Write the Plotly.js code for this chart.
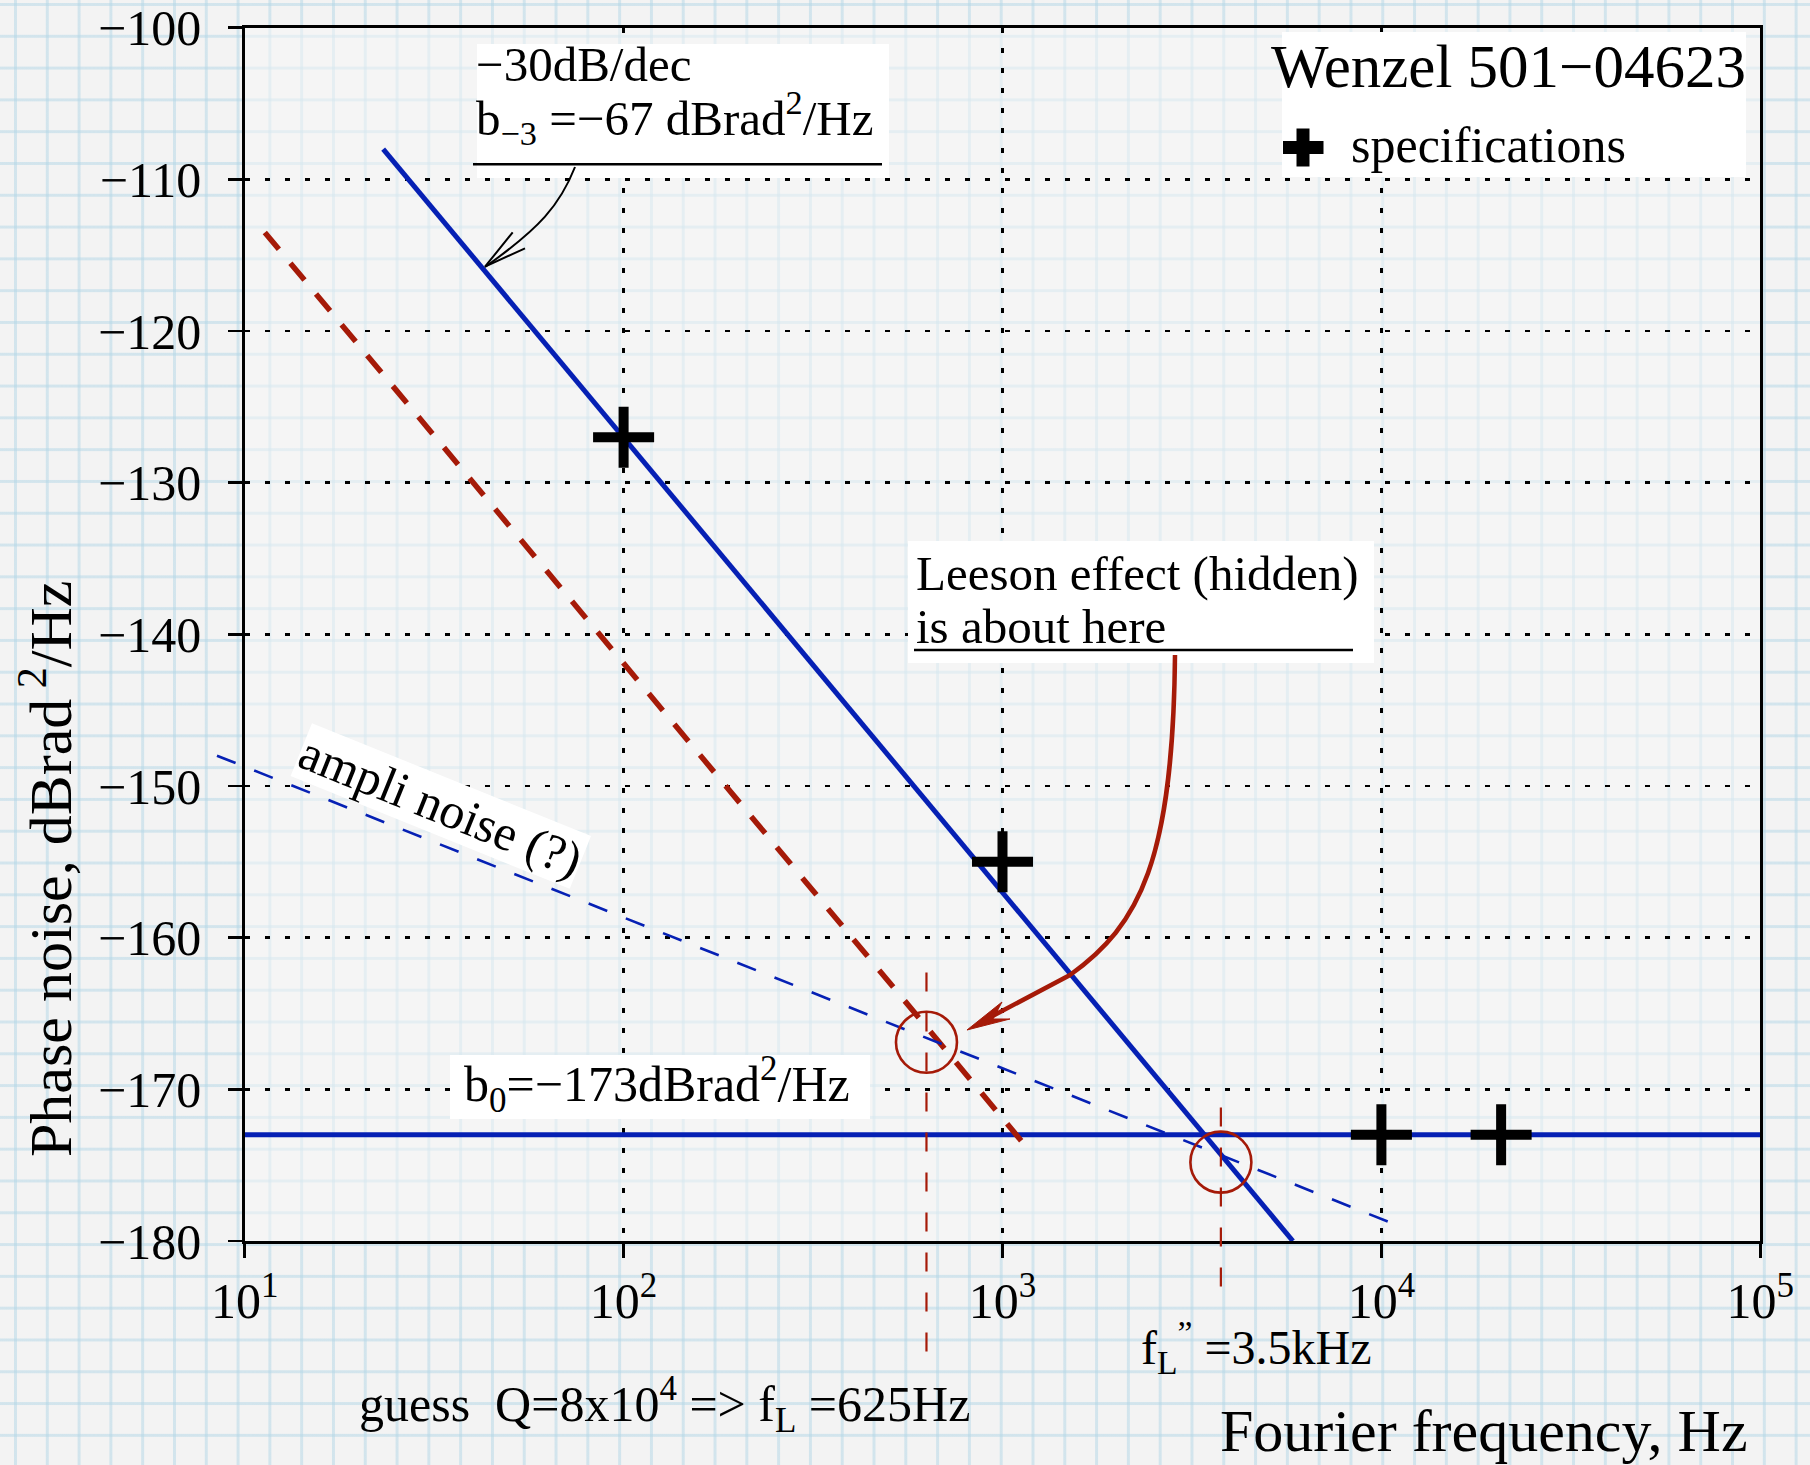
<!DOCTYPE html>
<html><head><meta charset="utf-8">
<script src="https://cdn.plot.ly/plotly-3.0.1.min.js"></script>
<style>
html,body{margin:0;padding:0;}
body{width:1810px;height:1465px;overflow:hidden;background-color:#f3f3f3;
background-image:linear-gradient(to right, rgba(178,214,230,0.5) 3px, transparent 3px), linear-gradient(to bottom, rgba(178,214,230,0.5) 3px, transparent 3px);
background-size:31.8px 31.8px;background-position:14px 3px;}
#chart{width:1810px;height:1465px;}
</style></head><body><div id="chart"></div>
<script>
// ---- data ----
const specFreq = [100, 1000, 10000, 20700];
const specPN = [-127, -155, -173, -173];
const flickerFreq = [23.2, 5840];          // b_-3 = -67 dB, -30 dB/dec
const flickerPN = [-108, -180];
const whiteFreq = [10, 100000];            // b_0 = -173 dB
const whitePN = [-173, -173];
const ampliFreq = [8.45, 10600];           // ampli noise (?)
const ampliPN = [-148, -178.8];
const leesonFreq = [11.3, 1130];           // Leeson guess
const leesonPN = [-113.5, -173.5];
const cornerFreq = [630, 3770];            // circled corners
const cornerPN = [-166.9, -174.8];
const fLFreq = [630, 630];
const fLPN = [-162.3, -187.6];
const fL2Freq = [3770, 3770];
const fL2PN = [-171.2, -183];
const xTickVals = [10, 100, 1000, 10000, 100000];
const xTickText = ['10<sup>1</sup>', '10<sup>2</sup>', '10<sup>3</sup>', '10<sup>4</sup>', '10<sup>5</sup>'];
const yTickVals = [-100, -110, -120, -130, -140, -150, -160, -170, -180];

// ---- geometry ----
const W = 1810, H = 1465;
const L = 244.7, R = 1760.3, T = 27.7, B = 1241;
const pxDec = (R - L) / 4, pxDB = (B - T) / 80;
const px = v => v / W, py = v => 1 - v / H;
const FONT = 'Liberation Serif, Times New Roman, serif';
const BLUE = '#0620b4', RED = '#a51a08';

const traces = [
  {x: whiteFreq, y: whitePN, mode: 'lines', line: {color: BLUE, width: 5}, xaxis: 'x', yaxis: 'y'},
  {x: flickerFreq, y: flickerPN, mode: 'lines', line: {color: BLUE, width: 5}, xaxis: 'x', yaxis: 'y'},
  {x: leesonFreq, y: leesonPN, mode: 'lines', line: {color: RED, width: 5.5, dash: '22px,18px'}, xaxis: 'x', yaxis: 'y'},
  {x: specFreq, y: specPN, mode: 'markers', marker: {symbol: 'cross-thin', size: 43.6, color: '#000', line: {color: '#000', width: 10}}, xaxis: 'x', yaxis: 'y'},
  {x: ampliFreq, y: ampliPN, mode: 'lines', line: {color: BLUE, width: 2.6, dash: '20px,20px'}, xaxis: 'x2', yaxis: 'y2'},
  {x: fLFreq, y: fLPN, mode: 'lines', line: {color: RED, width: 2.2, dash: '19px,21px'}, xaxis: 'x2', yaxis: 'y2'},
  {x: fL2Freq, y: fL2PN, mode: 'lines', line: {color: RED, width: 2.2, dash: '19px,21px'}, xaxis: 'x2', yaxis: 'y2'},
  {x: cornerFreq, y: cornerPN, mode: 'markers', marker: {symbol: 'circle-open', size: 61, color: RED, line: {color: RED, width: 2.6}}, xaxis: 'x2', yaxis: 'y2'}
];

function txt(text, x, y, size, xanchor, extra) {
  return Object.assign({xref: 'paper', yref: 'paper', x: px(x), y: py(y), text: text, showarrow: false,
    font: {family: FONT, size: size, color: '#000'}, xanchor: xanchor || 'center', yanchor: 'middle', borderpad: 0}, extra || {});
}
function rect(x0, y0, x1, y1, fill, layer) {
  return {type: 'rect', xref: 'paper', yref: 'paper', x0: px(x0), y0: py(y0), x1: px(x1), y1: py(y1),
    fillcolor: fill, line: {width: 0}, layer: layer || 'above'};
}
function hline(x0, x1, y, w) {
  return {type: 'line', xref: 'paper', yref: 'paper', x0: px(x0), x1: px(x1), y0: py(y), y1: py(y), line: {color: '#000', width: w}, layer: 'above'};
}
function pathShape(pts, color, width, fill) {
  let s = '';
  for (const seg of pts) {
    s += seg[0];
    const nums = [];
    for (let i = 1; i < seg.length; i += 2) nums.push(px(seg[i]).toFixed(5) + ',' + py(seg[i + 1]).toFixed(5));
    s += nums.join(' ') + ' ';
  }
  return {type: 'path', xref: 'paper', yref: 'paper', path: s.trim(), line: {color: color, width: width},
    fillcolor: fill || 'rgba(0,0,0,0)', layer: 'above'};
}

const shapes = [
  rect(L, T, R, B, 'rgba(248,248,248,0.5)', 'below'),
  rect(477, 44, 889, 178, '#fff'),
  rect(1282, 32, 1746, 177, '#fff'),
  rect(908, 541, 1374, 663, '#fff'),
  rect(450, 1055, 870, 1119, '#fff'),
  hline(473, 882, 164.3, 2.5),
  hline(914, 1353, 650, 2.5),
  rect(1283, 141, 1323.5, 154, '#000'),
  rect(1296.5, 128.5, 1309.5, 166.5, '#000'),
  pathShape([['M', 575, 167], ['C', 560, 205, 540, 228, 485, 267]], '#000', 2),
  pathShape([['M', 512.7, 232.3], ['L', 485, 266.7], ['L', 525, 248.3]], '#000', 2),
  pathShape([['M', 1175, 655], ['C', 1173, 860, 1140, 925, 1070, 975], ['L', 985, 1020]], RED, 4.5),
  pathShape([['M', 967, 1030], ['L', 1002, 1002], ['L', 993, 1019], ['L', 1010, 1019], ['Z']], RED, 1, RED)
];

const annotations = [
  txt('−30dB/dec', 475, 65, 49, 'left'),
  txt('b<sub>−3</sub> =−67 dBrad<sup>2</sup>/Hz', 475, 118, 49, 'left'),
  txt('Wenzel 501−04623', 1747, 66.6, 61, 'right'),
  txt('specifications', 1350, 144.7, 50, 'left'),
  txt('Leeson effect (hidden)', 915, 573, 49, 'left'),
  txt('is about here', 915, 626, 49, 'left'),
  txt('ampli noise (?)', 440.8, 805.6, 50, 'center', {textangle: 22, bgcolor: '#fff'}),
  txt('b<sub>0</sub>=−173dBrad<sup>2</sup>/Hz', 657, 1084.7, 50, 'center'),
  txt('guess\u00a0\u00a0Q=8x10<sup>4</sup> => f<sub>L</sub> =625Hz', 664.7, 1404.7, 50, 'center'),
  txt('f<sub>L</sub><sup>”</sup> =3.5kHz', 1140, 1347, 48, 'left'),
  txt('Fourier frequency, Hz', 1483.8, 1431.3, 60, 'center'),
  txt('Phase noise, dBrad<sup> 2</sup>/Hz', 46, 869, 60, 'center', {textangle: -90})
];

const axisCommon = {showline: true, linecolor: '#000', linewidth: 2.5, mirror: true, ticks: 'outside', ticklen: 14,
  tickwidth: 2.5, tickcolor: '#000', showgrid: true, gridcolor: '#000', gridwidth: 2.5, griddash: '5px,15px',
  zeroline: false, tickfont: {family: FONT, size: 50, color: '#000'}, fixedrange: true};

const layout = {
  width: W, height: H, margin: {l: 0, r: 0, t: 0, b: 0},
  paper_bgcolor: 'rgba(0,0,0,0)', plot_bgcolor: 'rgba(0,0,0,0)', showlegend: false,
  xaxis: Object.assign({}, axisCommon, {type: 'log', range: [1, 5], domain: [L / W, R / W], anchor: 'y',
    tickmode: 'array', tickvals: xTickVals, ticktext: xTickText, ticklabelstandoff: 0}),
  yaxis: Object.assign({}, axisCommon, {range: [-180, -100], domain: [1 - B / H, 1 - T / H], anchor: 'x',
    tickmode: 'array', tickvals: yTickVals, ticklabelstandoff: 17}),
  xaxis2: {type: 'log', domain: [0, 1], anchor: 'y2', visible: false, fixedrange: true,
    range: [1 - L / pxDec, 5 + (W - R) / pxDec]},
  yaxis2: {domain: [0, 1], anchor: 'x2', visible: false, fixedrange: true,
    range: [-180 - (H - B) / pxDB, -100 + T / pxDB]},
  shapes: shapes, annotations: annotations
};

Plotly.newPlot('chart', traces, layout, {displayModeBar: false, staticPlot: true});
</script></body></html>
